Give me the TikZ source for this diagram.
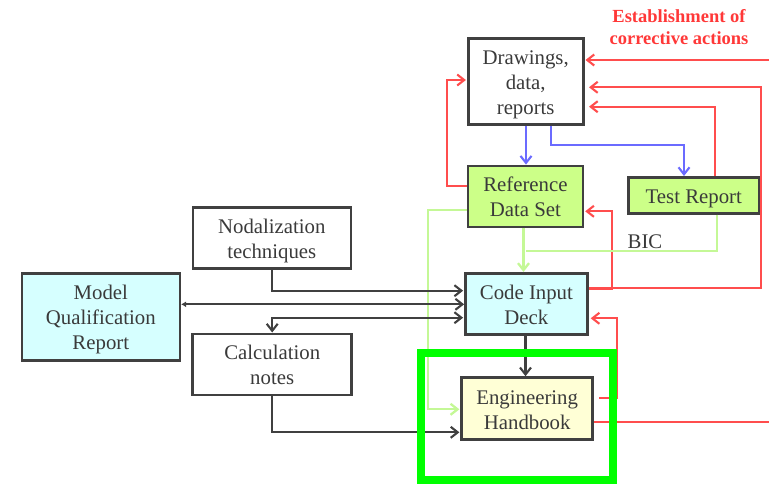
\documentclass[tikz,border=0pt]{standalone}
\usepackage{fontspec}
\setmainfont{Liberation Serif}
\usetikzlibrary{arrows.meta}
\definecolor{txt}{HTML}{3A3A3A}
\definecolor{bord}{HTML}{404040}
\definecolor{redl}{HTML}{FF4D4D}
\definecolor{redt}{HTML}{FF3838}
\definecolor{bluel}{HTML}{6B6BFF}
\definecolor{grnl}{HTML}{C4F896}
\definecolor{grnfill}{HTML}{CCFF88}
\definecolor{cyanfill}{HTML}{D6FFFF}
\definecolor{yelfill}{HTML}{FFFFD6}
\definecolor{hl}{HTML}{00FF00}
\begin{document}
\begin{tikzpicture}[x=1pt,y=-1pt,
  box/.style={draw=bord,line width=2.6pt,text=txt,align=center,
    font=\fontsize{20.8}{25}\selectfont,inner sep=0pt,text depth=0pt},
  lineone/.style={text height=16pt},
  linetwo/.style={text height=41pt},
  linethree/.style={text height=66pt},
  tip/.style={-{Straight Barb[length=7pt,width=11pt]}},
  dk/.style={draw=bord,line width=2.1pt},
  rd/.style={draw=redl,line width=2.1pt},
  bl/.style={draw=bluel,line width=2.1pt},
  gl/.style={draw=grnl,line width=2.3pt}]
\useasboundingbox (0,0) rectangle (769,483);

% nodes
\node[box,linethree,minimum width=115pt,minimum height=86pt] (drw) at (525.7,81.3) {Drawings,\\data,\\reports};
\node[box,linetwo,fill=grnfill,minimum width=115pt,minimum height=61pt] (rds) at (525.4,196.4) {Reference\\Data Set};
\node[box,lineone,fill=grnfill,minimum width=131pt,minimum height=36pt] (tr) at (693.8,195.3) {Test Report};
\node[box,linetwo,minimum width=158pt,minimum height=61pt] (nod) at (271.8,237.8) {Nodalization\\techniques};
\node[box,linethree,fill=cyanfill,minimum width=158pt,minimum height=87pt] (mqr) at (100.8,316.7) {Model\\Qualification\\Report};
\node[box,linetwo,fill=cyanfill,minimum width=122pt,minimum height=61pt] (cid) at (526.4,303.8) {Code Input\\Deck};
\node[box,linetwo,minimum width=159pt,minimum height=61pt] (calc) at (272.2,364.3) {Calculation\\notes};
\node[box,linetwo,fill=yelfill,minimum width=131pt,minimum height=62pt] (eh) at (527.2,408.5) {Engineering\\Handbook};
\node[text=redt,font=\bfseries\fontsize{18.5}{22}\selectfont,align=center] (title) at (679,27.5) {Establishment of\\corrective actions};

% free ends at the right edge
\coordinate (e1) at (772,60);
\coordinate (e2) at (772,421.7);

% red connectors
\draw[rd,tip] (e1) -- ([xshift=1pt]drw.east |- e1);
\draw[rd,tip] (cid.east |- 0,287.7) -- (761,287.7) -- (761,87.3) -- ([xshift=4.5pt]drw.east |- 0,87.3);
\draw[rd,tip] (cid.east |- 0,289) -- (611.7,289) -- (611.7,211.3) -- ([xshift=1pt]rds.east |- 0,211.3);
\draw[rd,tip] (tr.north -| 715,0) -- (715,106.7) -- ([xshift=4.5pt]drw.east |- 0,106.7);
\draw[rd,tip] (rds.west |- 0,185.7) -- (447,185.7) -- (447,80) -- ([xshift=-1pt]drw.west |- 0,80);
\draw[rd,tip] ([xshift=5pt]eh.east |- 0,397.7) -- (617.3,397.7) -- (617.3,318.3) -- ([xshift=2pt]cid.east |- 0,318.3);
\draw[rd] (eh.east |- e2) -- (e2);

% blue connectors
\draw[bl,tip] (drw.south -| 526,0) -- (rds.north -| 526,0);
\draw[bl,tip] (drw.south -| 550.7,0) -- (550.7,145) -- (684,145) -- (tr.north -| 684,0);

% light green connectors
\draw[gl,tip] (rds.south -| 523.5,0) -- (cid.north -| 523.5,0);
\draw[gl] (tr.south -| 716.7,0) -- (716.7,250.7) -- (526,250.7);
\node[text=txt,font=\fontsize{20.8}{25}\selectfont,inner sep=0pt] (bic) at (645,241.5) {BIC};
\draw[gl,tip] (rds.west |- 0,210.3) -- (428.3,210.3) -- (428.3,409.3) -- ([xshift=-1pt]eh.west |- 0,409.3);

% dark connectors
\draw[dk,tip] (nod.south) -- (nod.south |- 0,290.7) -- ([xshift=-1pt]cid.west |- 0,290.7);
\draw[dk,{Latex[length=5pt,width=6pt]}-{Straight Barb[length=7pt,width=11pt]}] (mqr.east |- 0,304.3) -- (cid.west |- 0,304.3);
\draw[dk,{Straight Barb[length=7pt,width=11pt]}-{Straight Barb[length=7pt,width=11pt]}] (calc.north) -- (calc.north |- 0,317.7) -- ([xshift=-1pt]cid.west |- 0,317.7);
\draw[dk,tip] (cid.south -| 525.5,0) -- (eh.north -| 525.5,0);
\draw[dk,tip] (calc.south) -- (calc.south |- 0,432.3) -- ([xshift=-1pt]eh.west |- 0,432.3);

% highlight frame
\draw[hl,line width=8pt] (421,353) rectangle (613,479.5);
\end{tikzpicture}
\end{document}
